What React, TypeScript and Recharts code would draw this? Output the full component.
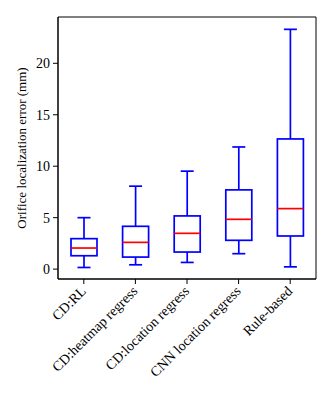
import { ComposedChart, Bar, XAxis, YAxis, CartesianGrid } from "recharts";

const categories = [
  "CD:RL",
  "CD:heatmap regress",
  "CD:location regress",
  "CNN location regress",
  "Rule-based",
];
const whiskerLow = [0.16, 0.42, 0.65, 1.5, 0.22];
const lowerQuartile = [1.3, 1.17, 1.66, 2.8, 3.22];
const medians = [2.05, 2.6, 3.48, 4.84, 5.88];
const upperQuartile = [2.96, 4.16, 5.17, 7.7, 12.65];
const whiskerHigh = [5.0, 8.06, 9.52, 11.87, 23.3];
const yTicks = [0, 5, 10, 15, 20];

const FONT = '"Times New Roman", "Liberation Serif", Times, serif';
const BLUE = "#0000ff";
const RED = "#ff0000";

const data = categories.map((name, i) => ({
  name,
  range: [whiskerLow[i], whiskerHigh[i]],
  low: whiskerLow[i],
  q1: lowerQuartile[i],
  median: medians[i],
  q3: upperQuartile[i],
  high: whiskerHigh[i],
}));

// draws one box + whiskers inside the bar slot of the [low, high] range bar
function BoxShape(props: any) {
  const { x, y, width, height, payload } = props;
  const top = Math.min(y, y + height);
  const h = Math.abs(height);
  const { low, q1, median, q3, high } = payload;
  const py = (v: number) => top + ((high - v) / (high - low)) * h;
  const cx = x + width / 2;
  const cap = width / 4;
  return (
    <g fill="none" strokeWidth={1.7}>
      <line x1={cx} x2={cx} y1={py(high)} y2={py(q3)} stroke={BLUE} />
      <line x1={cx} x2={cx} y1={py(q1)} y2={py(low)} stroke={BLUE} />
      <line x1={cx - cap} x2={cx + cap} y1={py(high)} y2={py(high)} stroke={BLUE} />
      <line x1={cx - cap} x2={cx + cap} y1={py(low)} y2={py(low)} stroke={BLUE} />
      <rect x={x} y={py(q3)} width={width} height={py(q1) - py(q3)} stroke={BLUE} />
      <line x1={x} x2={x + width} y1={py(median)} y2={py(median)} stroke={RED} />
    </g>
  );
}

function RotatedTick(props: any) {
  const { x, y, payload } = props;
  return (
    <g transform={`translate(${x + 3},${y + 8})`}>
      <text
        transform="rotate(-45)"
        textAnchor="end"
        fontFamily={FONT}
        fontSize={14}
        fill="#000"
      >
        {payload.value}
      </text>
    </g>
  );
}

function YLabel(props: any) {
  const { viewBox } = props;
  const cx = 21;
  const cy = viewBox.y + viewBox.height / 2;
  return (
    <text
      x={cx}
      y={cy}
      transform={`rotate(-90, ${cx}, ${cy})`}
      textAnchor="middle"
      dominantBaseline="central"
      fontFamily={FONT}
      fontSize={13}
      fill="#000"
    >
      Orifice localization error (mm)
    </text>
  );
}

export default function App() {
  return (
    <div style={{ position: "absolute", left: 0, top: 0, background: "#fff" }}>
      <ComposedChart
        width={335}
        height={400}
        data={data}
        margin={{ top: 17, right: 19, bottom: 0, left: 0 }}
        barCategoryGap={0}
      >
        {/* plot frame */}
        <CartesianGrid
          stroke="#000"
          horizontalCoordinatesGenerator={({ offset }: any) => [offset.top, offset.top + offset.height]}
          verticalCoordinatesGenerator={({ offset }: any) => [offset.left, offset.left + offset.width]}
        />
        <XAxis
          dataKey="name"
          height={121}
          interval={0}
          tick={<RotatedTick />}
          tickSize={5}
          tickMargin={0}
          axisLine={{ stroke: "#000" }}
          tickLine={{ stroke: "#000" }}
        />
        <YAxis
          width={58}
          domain={[-0.96, 24.5]}
          ticks={yTicks}
          tickSize={5}
          tickMargin={3}
          tick={{ fontFamily: FONT, fontSize: 14, fill: "#000" }}
          axisLine={{ stroke: "#000" }}
          tickLine={{ stroke: "#000" }}
          label={<YLabel />}
        />
        <Bar dataKey="range" barSize={26} shape={<BoxShape />} isAnimationActive={false} />
      </ComposedChart>
    </div>
  );
}
